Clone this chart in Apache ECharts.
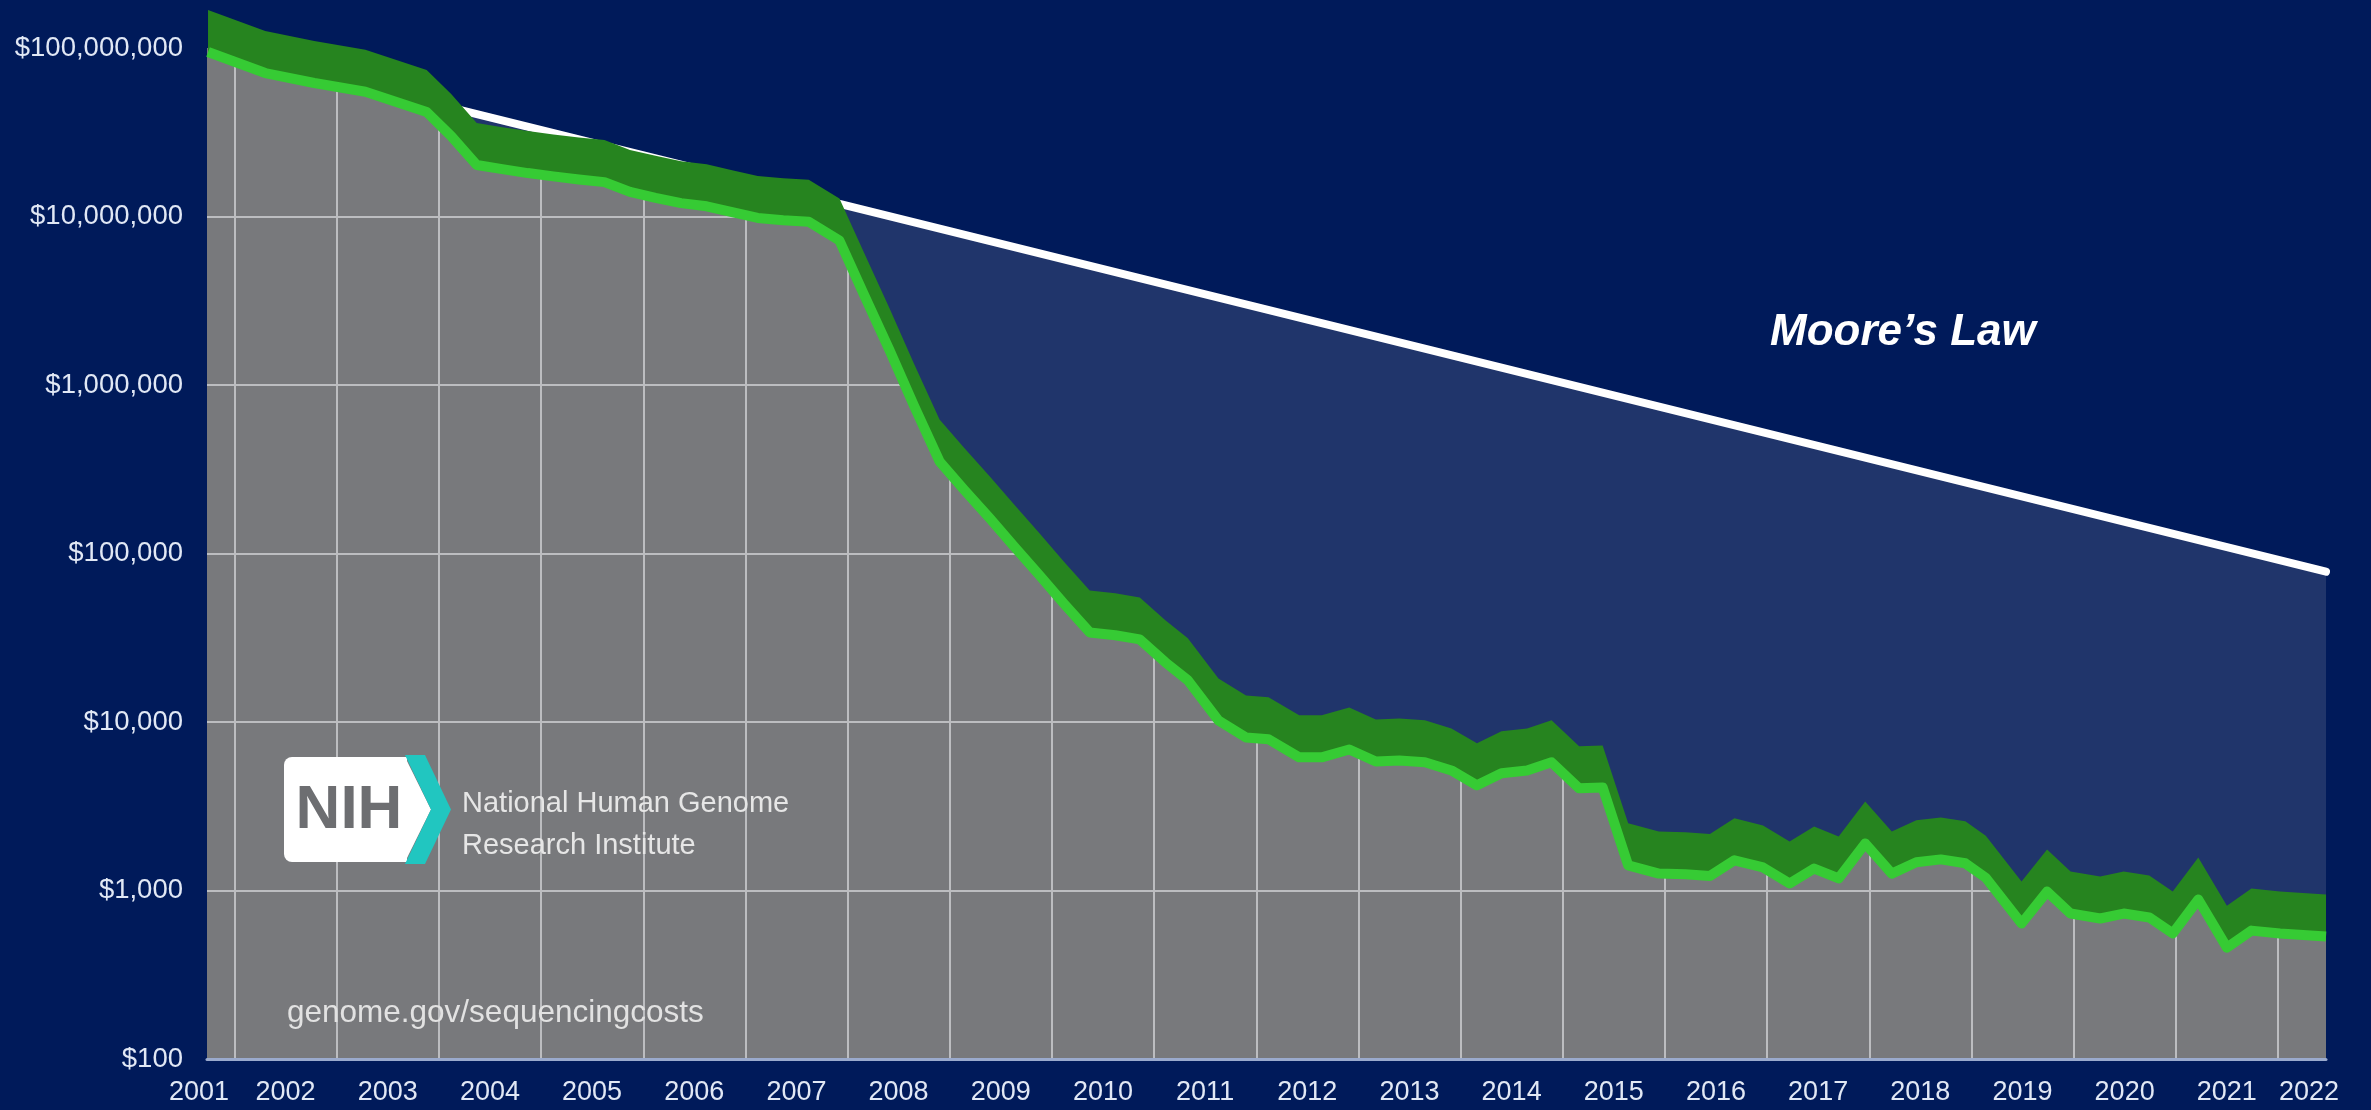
<!DOCTYPE html>
<html>
<head>
<meta charset="utf-8">
<script src="https://cdn.jsdelivr.net/npm/echarts/dist/echarts.min.js"></script>
<style>
html, body { margin: 0; padding: 0; background: #001a5a; }
#chart { width: 2371px; height: 1110px; }
</style>
</head>
<body>
<div id="chart"></div>
<script>
// ---- data ----
const costDates = [
  2001.74, 2002.30, 2002.78, 2003.28, 2003.88, 2004.12, 2004.37, 2004.62, 2004.87,
  2005.12, 2005.37, 2005.62, 2005.87, 2006.12, 2006.37, 2006.62, 2006.87,
  2007.12, 2007.37, 2007.62, 2007.92, 2008.16, 2008.41, 2008.65, 2008.90,
  2009.14, 2009.39, 2009.63, 2009.88, 2010.12, 2010.37, 2010.62, 2010.86,
  2011.11, 2011.33, 2011.63, 2011.90, 2012.12, 2012.42, 2012.64, 2012.91,
  2013.17, 2013.40, 2013.65, 2013.91, 2014.16, 2014.40, 2014.65, 2014.89,
  2015.16, 2015.39, 2015.64, 2015.94, 2016.20, 2016.44, 2016.68, 2016.96,
  2017.22, 2017.46, 2017.70, 2017.96, 2018.22, 2018.46, 2018.70, 2018.94,
  2019.14, 2019.49, 2019.74, 2019.97, 2020.26, 2020.49, 2020.74, 2020.97,
  2021.22, 2021.50, 2021.74, 2022.02, 2022.47
];
const costValues = [
  94700000, 71000000, 62000000, 55000000, 41700000, 30000000, 20200000, 19100000, 18100000,
  17300000, 16600000, 16000000, 14000000, 12900000, 12000000, 11500000, 10600000,
  9800000, 9500000, 9300000, 7200000, 3440000, 1610000, 753000, 352000,
  239000, 162000, 110000, 74000, 50200, 34000, 32700, 30900,
  22600, 17700, 10200, 8100, 7900, 6170, 6170, 6870,
  5830, 5900, 5770, 5160, 4210, 4960, 5160, 5760,
  4040, 4090, 1410, 1260, 1250, 1220, 1510, 1370,
  1100, 1350, 1180, 1900, 1260, 1470, 1530, 1450,
  1190, 637, 986, 730, 682, 730, 692, 556,
  885, 458, 578, 556, 533
];
const mooreDates = [2001.78, 2022.47];
const mooreValues = [99000000, 78000];

const xRange = [2001.73, 2022.47];
const yRange = [100, 100000000];
const xTickLabels = ['2001','2002','2003','2004','2005','2006','2007','2008','2009','2010','2011',
                     '2012','2013','2014','2015','2016','2017','2018','2019','2020','2021','2022'];
const yTickLabels = ['$100', '$1,000', '$10,000', '$100,000', '$1,000,000', '$10,000,000', '$100,000,000'];

// ---- styles ----
const NAVY = '#001a5a';
const BLUE = '#20356b';
const GRAY = '#78797c';
const GRIDC = '#bcbdc0';
const DARK = '#26841f';
const LIGHT = '#36cb34';
const LABEL = '#e1e8f5';
const FONT = "'Liberation Sans', Arial, sans-serif";
const BAND_PX = 42;

const cost = costDates.map((d, i) => [d, costValues[i]]);
const moore = mooreDates.map((d, i) => [d, mooreValues[i]]);

const chart = echarts.init(document.getElementById('chart'), null, { renderer: 'canvas' });

const option = {
  backgroundColor: NAVY,
  animation: false,
  grid: { left: 207, right: 45, top: 48, bottom: 51, show: true, backgroundColor: GRAY, borderWidth: 0 },
  xAxis: {
    type: 'value', min: xRange[0], max: xRange[1], splitNumber: 20,
    axisLine: { show: true, onZero: false, lineStyle: { color: '#9aaacd', width: 3 } },
    axisTick: { show: false },
    splitLine: { show: true, showMinLine: false, showMaxLine: false, lineStyle: { color: GRIDC, width: 2 } },
    axisLabel: {
      show: true, showMinLabel: true, showMaxLabel: false, margin: 20,
      color: LABEL, fontSize: 27, fontFamily: FONT,
      formatter: function (v) {
        if (v < 2002) return '{first|' + xTickLabels[0] + '}';
        const yr = Math.round(v);
        const lab = xTickLabels[yr - 2001];
        if (yr === 2022) return '{last|' + lab + '}';
        return '{mid|' + lab + '}';
      },
      rich: {
        first: { color: LABEL, fontSize: 27, fontFamily: FONT, padding: [0, 16, 0, 0] },
        mid: { color: LABEL, fontSize: 27, fontFamily: FONT, padding: [0, 0, 0, 102] },
        last: { color: LABEL, fontSize: 27, fontFamily: FONT, padding: [0, 0, 0, 62] }
      }
    }
  },
  yAxis: {
    type: 'log', logBase: 10, min: yRange[0], max: yRange[1], splitNumber: 6,
    axisLine: { show: false }, axisTick: { show: false },
    splitLine: { show: true, showMinLine: false, showMaxLine: false, lineStyle: { color: GRIDC, width: 2 } },
    axisLabel: {
      margin: 24, color: LABEL, fontSize: 27.5, fontFamily: FONT,
      padding: [0, 0, 6, 0],
      formatter: function (v) {
        const e = Math.round(Math.log10(v));
        return yTickLabels[e - 2] || '';
      }
    }
  },
  series: [
    { // blue region between the cost curve and the top
      name: 'coverBlue', type: 'line', data: cost, symbol: 'none', silent: true, z: 2,
      lineStyle: { width: 0 }, areaStyle: { color: BLUE, opacity: 1, origin: 'end' }
    },
    { // navy region above Moore's law
      name: 'coverNavy', type: 'line', data: moore, symbol: 'none', silent: true, z: 3,
      lineStyle: { width: 0 }, areaStyle: { color: NAVY, opacity: 1, origin: 'end' }
    },
    { // Moore's law line
      name: "Moore's Law", type: 'line', data: moore, symbol: 'none', z: 4, clip: false,
      lineStyle: { color: '#ffffff', width: 8, cap: 'round' }
    },
    { // dark green ribbon above the cost curve
      name: 'ribbon', type: 'custom', z: 5, clip: false, silent: true,
      data: [cost[0]],
      encode: { x: 0, y: 1 },
      renderItem: function (params, api) {
        const top = [], bottom = [];
        for (let i = 0; i < costDates.length; i++) {
          const p = api.coord([costDates[i], costValues[i]]);
          top.push([p[0], p[1] - BAND_PX]);
          bottom.push([p[0], p[1]]);
        }
        return { type: 'polygon', shape: { points: top.concat(bottom.reverse()) }, style: { fill: DARK } };
      }
    },
    { // cost per genome
      name: 'Cost per Genome', type: 'line', data: cost, symbol: 'none', z: 6, clip: false,
      lineStyle: { color: LIGHT, width: 10, join: 'round' }
    }
  ],
  graphic: [
    { type: 'text', z: 100, x: 1770, y: 333,
      style: { text: 'Moore\u2019s Law', fill: '#ffffff', font: "italic bold 44px 'Liberation Sans', Arial, sans-serif", align: 'left', verticalAlign: 'middle' } },
    { type: 'rect', z: 100, shape: { x: 284, y: 757, width: 123, height: 105, r: [8, 0, 0, 8] }, style: { fill: '#ffffff' } },
    { type: 'polygon', z: 100, shape: { points: [[405, 757], [431, 809.5], [405, 862]] }, style: { fill: '#ffffff' } },
    { type: 'polygon', z: 100, shape: { points: [[405, 755], [425, 755], [451, 809.5], [425, 864], [405, 864], [431, 809.5]] }, style: { fill: '#21c6c0' } },
    { type: 'text', z: 101, x: 349, y: 811,
      style: { text: 'NIH', fill: '#6d6e71', font: "bold 62px 'Liberation Sans', Arial, sans-serif", align: 'center', verticalAlign: 'middle' } },
    { type: 'text', z: 100, x: 462, y: 804,
      style: { text: 'National Human Genome', fill: '#e6e6e6', font: "29px 'Liberation Sans', Arial, sans-serif", align: 'left', verticalAlign: 'middle' } },
    { type: 'text', z: 100, x: 462, y: 846,
      style: { text: 'Research Institute', fill: '#e6e6e6', font: "29px 'Liberation Sans', Arial, sans-serif", align: 'left', verticalAlign: 'middle' } },
    { type: 'text', z: 100, x: 287, y: 1013,
      style: { text: 'genome.gov/sequencingcosts', fill: '#e2e2e2', font: "31.5px 'Liberation Sans', Arial, sans-serif", align: 'left', verticalAlign: 'middle' } }
  ]
};
chart.setOption(option);
</script>
</body>
</html>
